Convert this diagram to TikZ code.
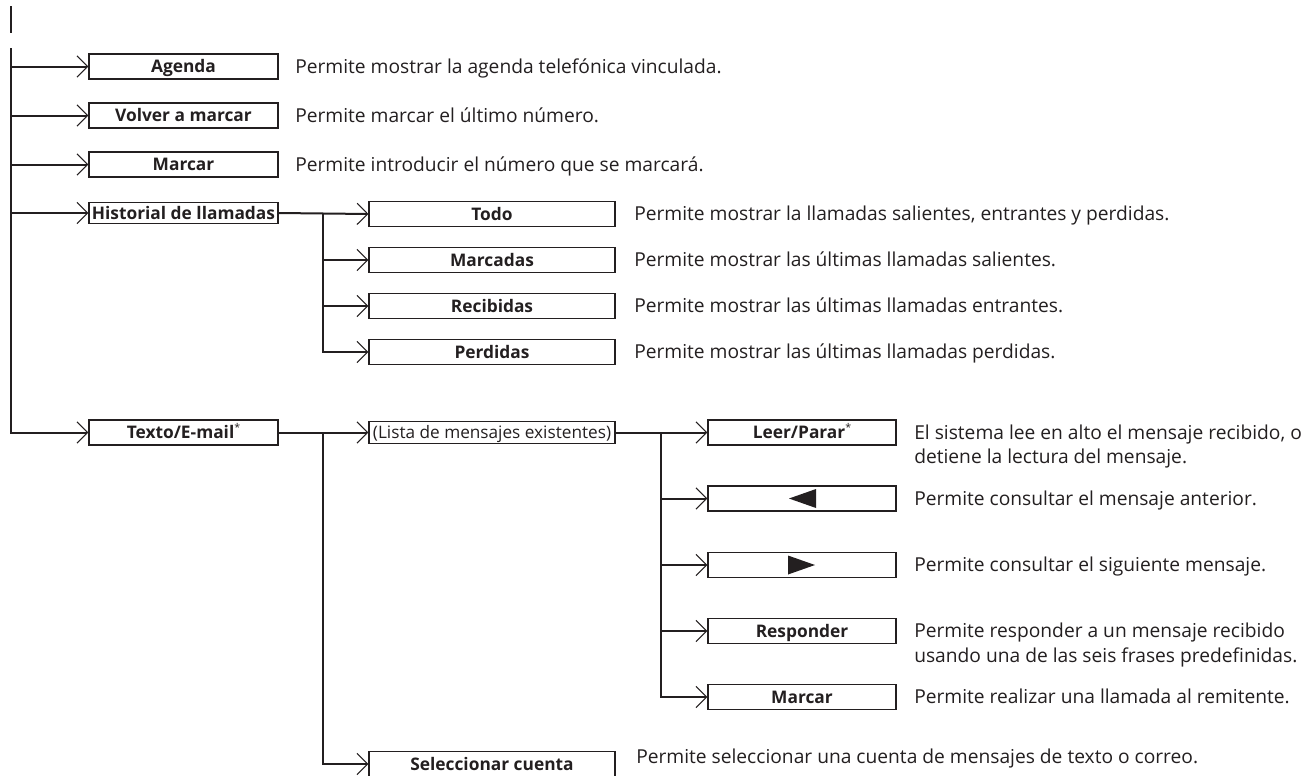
\documentclass[tikz,border=0pt]{standalone}
\usepackage{fontspec}
\setmainfont{Open Sans}
\usetikzlibrary{arrows.meta}
\definecolor{ink}{HTML}{231F20}
\newcommand{\lblfont}{\fontsize{13}{15}\selectfont\bfseries}
\newcommand{\descfont}{\fontsize{14.4}{18.5}\selectfont}
\newcommand{\listafont}{\fontsize{12.9}{15}\selectfont\mdseries}
\newcommand{\myast}{{\fontsize{8}{9}\selectfont\mdseries\raisebox{5pt}{*}}}
\begin{document}
\begin{tikzpicture}[x=0.75pt,y=-0.75pt,
  every node/.style={text=ink},
  box/.style={draw=ink, line width=0.8pt, inner sep=0pt, minimum height=18.75pt, font=\lblfont, text height=9pt, text depth=0pt},
  boxA/.style={box, minimum width=141.75pt},
  boxB/.style={box, minimum width=184.5pt},
  boxC/.style={box, minimum width=141pt},
  desc/.style={anchor=base west, inner sep=0pt, font=\descfont},
  wire/.style={draw=ink, line width=1.5pt, line join=miter},
  conn/.style={wire, -{Straight Barb[length=8pt,width=16pt,line width=0.8pt]}}
]
\useasboundingbox (0,0) rectangle (1313,775);

% level 1 boxes
\node[boxA] (agenda)   at (183.5,66.5)  {Agenda};
\node[boxA] (volver)   at (183.5,115.5) {Volver a marcar};
\node[boxA] (marcar)   at (183.5,164.5) {Marcar};
\node[boxA, minimum height=16pt] (hist) at (183.5,213) {Historial de llamadas};
\node[boxA] (texto)    at (183.5,432.5) {Texto/E-mail\myast};

% level 2 (historial)
\node[boxB] (todo)      at (492,214) {Todo};
\node[boxB] (marcadas)  at (492,260) {Marcadas};
\node[boxB] (recibidas) at (492,306) {Recibidas};
\node[boxB] (perdidas)  at (492,352) {Perdidas};

% level 2 (texto)
\node[boxB, minimum height=17pt, font=\listafont] (lista) at (492,432.5) {(Lista de mensajes existentes)};
\node[boxB] (selec) at (492,764) {Seleccionar cuenta};

% level 3
\node[boxC] (leer) at (802,432.5) {Leer/Parar\myast};
\node[boxC] (prev) at (802,498.5) {};
\node[boxC] (next) at (802,565) {};
\node[boxC] (resp) at (802,631)   {Responder};
\node[boxC] (marc2) at (802,697)  {Marcar};

\fill[ink] (prev.center) ++(-13,0) -- ++(27,-9.5) -- ++(0,19) -- cycle;
\fill[ink] (next.center) ++(13,0) -- ++(-27,-9.5) -- ++(0,19) -- cycle;

% descriptions
\node[desc] (dagenda) at (295,73)  {Permite mostrar la agenda telefónica vinculada.};
\node[desc] (dvolver) at (295,122) {Permite marcar el último número.};
\node[desc] (dmarcar) at (295,171) {Permite introducir el número que se marcará.};
\node[desc] (dtodo)   at (634,220.5)   {Permite mostrar la llamadas salientes, entrantes y perdidas.};
\node[desc] (dmarcadas) at (634,266.5) {Permite mostrar las últimas llamadas salientes.};
\node[desc] (drecib)  at (634,312.5)   {Permite mostrar las últimas llamadas entrantes.};
\node[desc] (dperd)   at (634,358.5)   {Permite mostrar las últimas llamadas perdidas.};
\node[desc] (dleer)   at (914,439) {\begin{tabular}[t]{@{}l@{}}El sistema lee en alto el mensaje recibido, o\\detiene la lectura del mensaje.\end{tabular}};
\node[desc] (dprev)   at (914,505)   {Permite consultar el mensaje anterior.};
\node[desc] (dnext)   at (914,571.5) {Permite consultar el siguiente mensaje.};
\node[desc] (dresp)   at (914,637.5) {\begin{tabular}[t]{@{}l@{}}Permite responder a un mensaje recibido\\usando una de las seis frases predefinidas.\end{tabular}};
\node[desc] (dmarc2)  at (914,703.5) {Permite realizar una llamada al remitente.};
\node[desc] (dselec)  at (636,763)   {Permite seleccionar una cuenta de mensajes de texto o correo.};

% connectors
\coordinate (stubA) at (11,6);
\coordinate (stubB) at (11,33);
\coordinate (trunk) at (11,48);
\coordinate (jH) at (323,0);
\coordinate (jT) at (323,0);
\coordinate (jL) at (661,0);

\draw[wire] (stubA) -- (stubB);
\draw[conn] (trunk) -- (trunk |- texto.west) -- (texto.west);
\foreach \n in {agenda,volver,marcar,hist}
  \draw[conn] (trunk |- \n.west) -- (\n.west);

\draw[conn] (hist.east) -- (todo.west);
\draw[conn] (jH |- hist.east) -- (jH |- perdidas.west) -- (perdidas.west);
\foreach \n in {marcadas,recibidas}
  \draw[conn] (jH |- \n.west) -- (\n.west);

\draw[conn] (texto.east) -- (lista.west);
\draw[conn] (jT |- texto.east) -- (jT |- selec.west) -- (selec.west);

\draw[conn] (lista.east) -- (leer.west);
\draw[conn] (jL |- lista.east) -- (jL |- marc2.west) -- (marc2.west);
\foreach \n in {prev,next,resp}
  \draw[conn] (jL |- \n.west) -- (\n.west);
\end{tikzpicture}
\end{document}
